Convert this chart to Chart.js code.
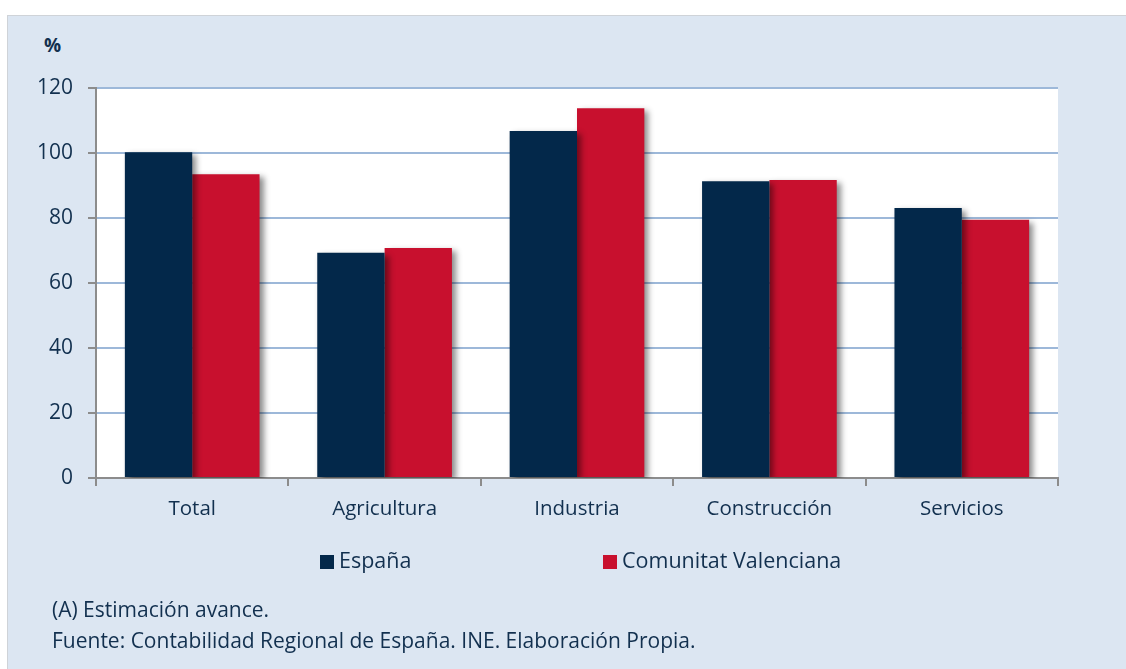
<!DOCTYPE html>
<html>
<head>
<meta charset="utf-8">
<script src="https://cdn.jsdelivr.net/npm/chart.js@4/dist/chart.umd.min.js"></script>
<style>
  body { margin: 0; background: #fff; font-family: "Open Sans", sans-serif; color: #12304f; }
  #panel { position: absolute; left: 7px; top: 15px; width: 1130px; height: 670px; background: #dce6f2; border: 1px solid #cfd3d8; }
  #wrap { position: absolute; left: 0; top: 0; width: 1126px; height: 669px; }
  .txt { position: absolute; white-space: nowrap; line-height: 24px; }
  #unit { left: 44px; top: 33px; font-weight: bold; font-size: 19px; }
  #legend { position: absolute; top: 547px; left: 0; width: 1126px; height: 30px; }
  .item { position: absolute; font-size: 21.5px; line-height: 26px; white-space: nowrap; }
  .item span { display: inline-block; width: 14px; height: 14px; margin-right: 5px; vertical-align: -1px; }
  #note1 { left: 52px; top: 597px; font-size: 21px; }
  #note2 { left: 52px; top: 628px; font-size: 21px; }
</style>
</head>
<body>
<div id="panel"></div>
<div class="txt" id="unit">%</div>
<div id="wrap"><canvas id="chart" width="1126" height="669"></canvas></div>
<div id="legend"></div>
<div class="txt" id="note1">(A) Estimación avance.</div>
<div class="txt" id="note2">Fuente: Contabilidad Regional de España. INE. Elaboración Propia.</div>
<script>
const categories = ['Total', 'Agricultura', 'Industria', 'Construcción', 'Servicios'];
const espana = [100.2, 69.3, 106.8, 91.3, 83.1];
const valenciana = [93.5, 70.8, 113.8, 91.7, 79.5];
const yTicks = [0, 20, 40, 60, 80, 100, 120];

const textColor = '#12304f';
const axisGray = '#8c8c8c';

// white plot background + bar shadows
const plotBg = {
  id: 'plotBg',
  beforeDraw(chart) {
    const { ctx, chartArea: a } = chart;
    ctx.save();
    ctx.fillStyle = '#ffffff';
    ctx.fillRect(a.left, a.top, a.right - a.left, a.bottom - a.top);
    ctx.restore();
  },
  beforeDatasetsDraw(chart) {
    const ctx = chart.ctx;
    ctx.save();
    ctx.shadowColor = 'rgba(0,0,0,0.45)';
    ctx.shadowBlur = 6;
    ctx.shadowOffsetX = 4;
    ctx.shadowOffsetY = 3;
  },
  afterDatasetsDraw(chart) {
    chart.ctx.restore();
  }
};

const ctx = document.getElementById('chart').getContext('2d');
const chart = new Chart(ctx, {
  type: 'bar',
  data: {
    labels: categories,
    datasets: [
      { label: 'España', data: espana, backgroundColor: '#03284a' },
      { label: 'Comunitat Valenciana', data: valenciana, backgroundColor: '#c8102e' }
    ]
  },
  options: {
    responsive: false,
    animation: false,
    layout: { padding: { top: 88, right: 68, bottom: 141, left: 0 } },
    datasets: { bar: { categoryPercentage: 0.7, barPercentage: 1.0 } },
    plugins: { legend: { display: false }, tooltip: { enabled: false } },
    scales: {
      x: {
        grid: { drawOnChartArea: false, tickColor: axisGray, tickLength: 8, lineWidth: 2 },
        border: { color: axisGray, width: 2 },
        ticks: { color: textColor, font: { family: 'Open Sans', size: 20.5 }, padding: 11 },
        afterFit(s) { s.height = 50; }
      },
      y: {
        min: 0, max: 120,
        afterBuildTicks(s) { s.ticks = yTicks.map(v => ({ value: v })); },
        grid: { color: '#9db8d9', lineWidth: 2, tickColor: axisGray, tickLength: 8 },
        border: { color: axisGray, width: 2 },
        ticks: { color: textColor, font: { family: 'Open Sans', size: 21 }, padding: 15 },
        afterFit(s) { s.width = 96; }
      }
    }
  },
  plugins: [plotBg]
});

// legend built from the datasets
const legend = document.getElementById('legend');
const legendX = [320, 603];
chart.data.datasets.forEach((ds, i) => {
  const d = document.createElement('div');
  d.className = 'item';
  d.style.left = legendX[i] + 'px';
  d.innerHTML = '<span style="background:' + ds.backgroundColor + '"></span>' + ds.label;
  legend.appendChild(d);
});
</script>
</body>
</html>
